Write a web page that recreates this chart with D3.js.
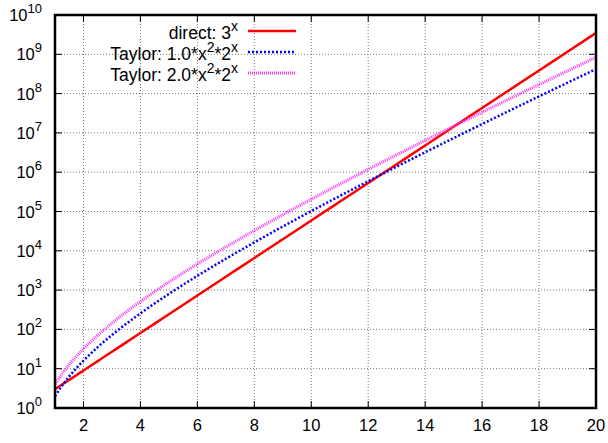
<!DOCTYPE html>
<html>
<head>
<meta charset="utf-8">
<script src="https://cdn.jsdelivr.net/npm/d3@7"></script>
<style>
  body { margin: 0; background: #fff; }
  text { font-family: "Liberation Sans", Arial, sans-serif; fill: #000; }
</style>
</head>
<body>
<svg id="chart" width="608" height="443"></svg>
<script>
// x sample points (denser at small x where the curves bend)
var xs = [1, 1.25, 1.5, 1.75, 2, 2.5, 3, 3.5, 4, 5, 6, 7, 8, 9, 10, 11, 12, 13, 14, 15, 16, 17, 18, 19, 20];

// direct: 3^x
var direct = [3, 3.948, 5.196, 6.839, 9, 15.59, 27, 46.77, 81, 243, 729, 2187, 6561, 19683, 59049,
  177147, 531441, 1594323, 4782969, 14348907, 43046721, 129140163, 387420489, 1162261467, 3486784401];

// Taylor: 1.0*x^2*2^x
var taylor1 = [2, 3.716, 6.364, 10.30, 16, 35.36, 72, 138.6, 256, 800, 2304, 6272, 16384, 41472, 102400,
  247808, 589824, 1384448, 3211264, 7372800, 16777216, 37879808, 84934656, 189267968, 419430400];

// Taylor: 2.0*x^2*2^x
var taylor2 = [4, 7.432, 12.73, 20.60, 32, 70.71, 144, 277.2, 512, 1600, 4608, 12544, 32768, 82944, 204800,
  495616, 1179648, 2768896, 6422528, 14745600, 33554432, 75759616, 169869312, 378535936, 838860800];

var xTicks = [2, 4, 6, 8, 10, 12, 14, 16, 18, 20];
var yExps = [0, 1, 2, 3, 4, 5, 6, 7, 8, 9, 10];

var seriesNames = ["direct: 3", "Taylor: 1.0*x", "Taylor: 2.0*x"];

var pLeft = 55, pRight = 596, pTop = 15, pBottom = 408;

var svg = d3.select("#chart");

var xScale = d3.scaleLinear().domain([1, 20]).range([pLeft, pRight]);
var yScale = d3.scaleLog().domain([1, 1e10]).range([pBottom, pTop]);

// grid
var grid = svg.append("g");
grid.selectAll(".gx")
    .data(xTicks.filter(function(d) { return d < 20; }))
    .enter().append("line")
    .attr("x1", function(d) { return xScale(d); })
    .attr("x2", function(d) { return xScale(d); })
    .attr("y1", pTop).attr("y2", pBottom)
    .attr("stroke", "#555").attr("stroke-width", 0.8)
    .attr("stroke-dasharray", "1,2");
grid.selectAll(".gy")
    .data(yExps.filter(function(d) { return d > 0 && d < 10; }))
    .enter().append("line")
    .attr("x1", pLeft).attr("x2", pRight)
    .attr("y1", function(d) { return yScale(Math.pow(10, d)); })
    .attr("y2", function(d) { return yScale(Math.pow(10, d)); })
    .attr("stroke", "#555").attr("stroke-width", 0.8)
    .attr("stroke-dasharray", "1,2");

// inward ticks on all four sides
var ticks = svg.append("g").attr("stroke", "#000").attr("stroke-width", 1);
xTicks.forEach(function(d) {
    ticks.append("line").attr("x1", xScale(d)).attr("x2", xScale(d)).attr("y1", pBottom).attr("y2", pBottom - 7);
    ticks.append("line").attr("x1", xScale(d)).attr("x2", xScale(d)).attr("y1", pTop).attr("y2", pTop + 7);
});
yExps.forEach(function(d) {
    var y = yScale(Math.pow(10, d));
    ticks.append("line").attr("x1", pLeft).attr("x2", pLeft + 7).attr("y1", y).attr("y2", y);
    ticks.append("line").attr("x1", pRight).attr("x2", pRight - 7).attr("y1", y).attr("y2", y);
});

// tick labels
svg.selectAll(".xl")
    .data(xTicks)
    .enter().append("text")
    .attr("x", function(d) { return xScale(d); })
    .attr("y", 431)
    .attr("text-anchor", "middle")
    .attr("font-size", 16.5)
    .text(function(d) { return d; });

var yl = svg.selectAll(".yl")
    .data(yExps)
    .enter().append("text")
    .attr("x", 42)
    .attr("y", function(d) { return yScale(Math.pow(10, d)) + 6; })
    .attr("text-anchor", "end")
    .attr("font-size", 16.5);
yl.append("tspan").text("10");
yl.append("tspan").attr("dy", -8).attr("font-size", 13).text(function(d) { return d; });

// clip
svg.append("clipPath").attr("id", "clip")
    .append("rect").attr("x", pLeft).attr("y", pTop).attr("width", pRight - pLeft).attr("height", pBottom - pTop);

var line = d3.line()
    .x(function(d, i) { return xScale(xs[i]); })
    .y(function(d) { return yScale(d); })
    .curve(d3.curveMonotoneX);

var styles = [
    { data: direct, color: "#ff0000", width: 2.5, dash: null },
    { data: taylor1, color: "#0000ff", width: 2.5, dash: "2,2" },
    { data: taylor2, color: "#ff33ff", width: 3, dash: "1,1" }
];

var plot = svg.append("g").attr("clip-path", "url(#clip)");
styles.forEach(function(s) {
    plot.append("path")
        .datum(s.data)
        .attr("d", line)
        .attr("fill", "none")
        .attr("stroke", s.color)
        .attr("stroke-width", s.width)
        .attr("stroke-dasharray", s.dash);
});

// legend
var legY = [31, 52, 73];
var sup1 = ["x", "2", "2"];
styles.forEach(function(s, i) {
    var t = svg.append("text")
        .attr("x", 238)
        .attr("y", legY[i] + 8)
        .attr("text-anchor", "end")
        .attr("font-size", 17.5);
    t.append("tspan").text(seriesNames[i]);
    t.append("tspan").attr("dy", -8).attr("font-size", 14).text(sup1[i]);
    if (i > 0) {
        t.append("tspan").attr("dy", 8).text("*2");
        t.append("tspan").attr("dy", -8).attr("font-size", 14).text("x");
    }
    svg.append("line")
        .attr("x1", 248).attr("x2", 296)
        .attr("y1", legY[i]).attr("y2", legY[i])
        .attr("stroke", s.color)
        .attr("stroke-width", s.width)
        .attr("stroke-dasharray", s.dash);
});

// border
svg.append("rect")
    .attr("x", pLeft).attr("y", pTop)
    .attr("width", pRight - pLeft).attr("height", pBottom - pTop)
    .attr("fill", "none")
    .attr("stroke", "#000")
    .attr("stroke-width", 2.5);
</script>
</body>
</html>
